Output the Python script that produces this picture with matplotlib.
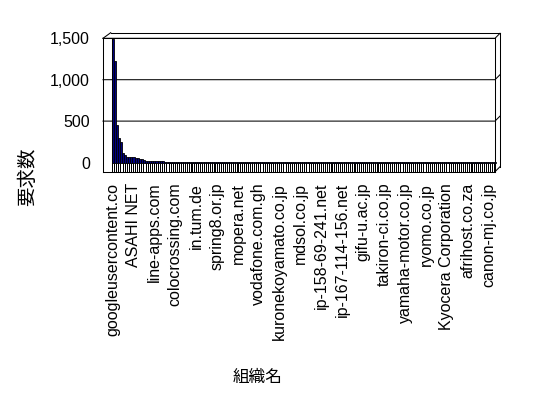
import matplotlib
matplotlib.use("Agg")
import matplotlib.pyplot as plt
from matplotlib.lines import Line2D

# requests per organisation (sorted)
requests = [1495, 1228, 455, 300, 245, 112, 92, 72, 70, 63,
            61, 52, 49, 40, 37, 25, 23, 21, 16, 15,
            15, 14, 14, 13, 13, 12, 12, 12, 12, 11,
            11, 11, 11, 11, 10, 10, 10, 10, 10, 10,
            10, 9, 9, 9, 9, 9, 9, 9, 9, 9,
            9, 8, 8, 8, 8, 8, 8, 8, 8, 8,
            8, 8, 8, 7, 7, 7, 7, 7, 7, 7,
            7, 7, 7, 7, 7, 5, 5, 5, 5, 5,
            5, 5, 5, 5, 5, 5, 5, 5, 5, 5,
            4, 4, 4, 4, 4, 4, 4, 4, 4, 4,
            4, 4, 4, 4, 4, 4, 4, 4, 4, 4,
            3, 3, 3, 3, 3, 3, 3, 3, 3, 3,
            3, 3, 3, 3, 3, 3, 3, 3, 3, 3,
            3, 3, 3, 3, 2, 2, 2, 2, 2, 2,
            2, 2, 2, 2, 2, 2, 2, 2, 2, 2,
            2, 2, 2, 2, 2, 2, 2, 2, 2, 1,
            1, 1, 1, 1, 1, 1, 1, 1, 1, 1,
            1, 1, 1, 1, 1, 1, 1, 1, 1, 1,
            1, 1, 1, 1]

# only every 10th organisation is labelled on the axis
org_labels = ["googleusercontent.co", "ASAHI NET", "line-apps.com",
              "colocrossing.com", "in.tum.de", "spring8.or.jp", "mopera.net",
              "vodafone.com.gh", "kuronekoyamato.co.jp", "mdsol.co.jp",
              "ip-158-69-241.net", "ip-167-114-156.net", "gifu-u.ac.jp",
              "takiron-ci.co.jp", "yamaha-motor.co.jp", "ryomo.co.jp",
              "Kyocera Corporation", "afrihost.co.za", "canon-mj.co.jp"]
y_ticks = [0, 500, 1000, 1500]
y_ticklabels = ["0", "500", "1,000", "1,500"]

W, H = 548, 398
AX_L, AX_R, AX_T, AX_B = 103, 495, 38.3, 171.7
XLIM = (-4.6, 183.0)
YLIM = (-111, 1500)
LW = 0.75


def fx(px):
    return px / W


def fy(py):
    return 1 - py / H


def fline(p0, p1):
    fig.add_artist(Line2D([fx(p0[0]), fx(p1[0])], [fy(p0[1]), fy(p1[1])],
                          transform=fig.transFigure, color="black", lw=LW))


fig = plt.figure(figsize=(W / 100, H / 100), dpi=100)
ax = fig.add_axes([fx(AX_L), fy(AX_B), (AX_R - AX_L) / W, (AX_B - AX_T) / H])
ax.set_xlim(*XLIM)
ax.set_ylim(*YLIM)

xs = list(range(len(requests)))
# gridlines with the little 3d stub on the right
dx = 5 * (XLIM[1] - XLIM[0]) / (AX_R - AX_L)
dv = 5 * (YLIM[1] - YLIM[0]) / (AX_B - AX_T)
for v in y_ticks[1:]:
    ax.plot([XLIM[0], XLIM[1], XLIM[1] + dx], [v, v, v + dv], color="black",
            lw=LW, clip_on=False, zorder=1)
ax.plot([XLIM[1], XLIM[1] + dx], [YLIM[0], YLIM[0] + dv], color="black",
        lw=LW, clip_on=False, zorder=1)

# floor part of each column (the striped band) and the column itself
ax.bar(xs, [0 - YLIM[0]] * len(xs), bottom=YLIM[0], width=0.5,
       color="black", linewidth=0, antialiased=False, clip_on=False, zorder=2)
ax.bar(xs, requests, width=1.0, color="#000080", edgecolor="black",
       linewidth=0.6, clip_on=False, zorder=3)

ax.set_yticks(y_ticks)
ax.set_yticklabels(y_ticklabels)
ax.set_xticks(xs[::10])
ax.set_xticklabels(org_labels, rotation=90)
ax.tick_params(axis="both", length=0, labelsize=11.5)
ax.tick_params(axis="y", pad=9.5)
ax.tick_params(axis="x", pad=8)
for lab in ax.get_xticklabels() + ax.get_yticklabels():
    lab.set_fontfamily("Liberation Sans")
for s in ax.spines.values():
    s.set_linewidth(LW)

# 3d frame around the plot area
fline((AX_L, AX_T), (110.7, 32.7))
fline((110.7, 32.7), (500, 32.7))
fline((500, 32.7), (500, 166.7))
fline((111.7, AX_T), (111.7, 162.5))

fig.text(fx(258), fy(377), "組織名", ha="center", va="center",
         fontsize=12, family=["Noto Sans CJK JP", "DejaVu Sans"])
fig.text(fx(27.5), fy(176.5), "要求数", ha="center", va="center",
         rotation=90, fontsize=14, family=["Noto Sans CJK JP", "DejaVu Sans"])

fig.savefig("out.png", dpi=100)
